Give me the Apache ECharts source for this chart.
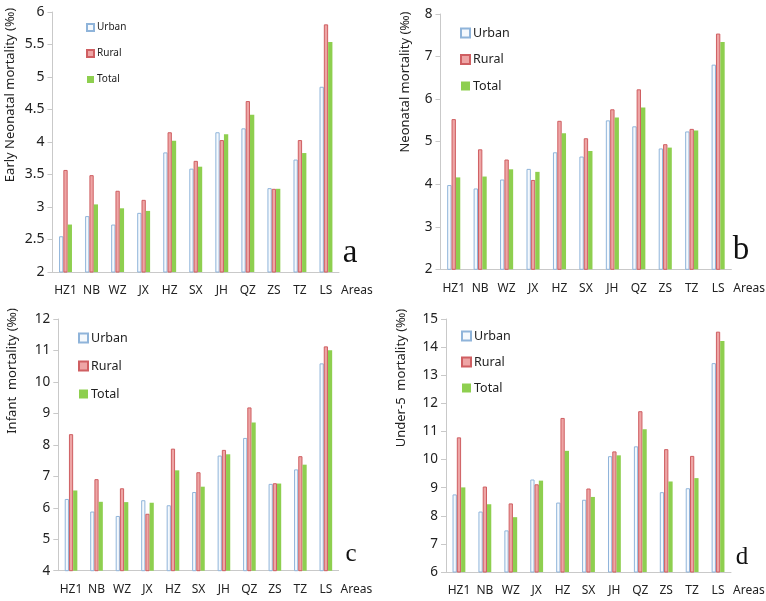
<!DOCTYPE html>
<html><head><meta charset="utf-8">
<script src="https://cdn.jsdelivr.net/npm/echarts@6/dist/echarts.min.js"></script>
<style>html,body{margin:0;padding:0;background:#fff}#c{width:766px;height:601px}</style>
</head><body><div id="c"></div>
<script>
const categories = ['HZ1','NB','WZ','JX','HZ','SX','JH','QZ','ZS','TZ','LS'];
const seriesNames = ['Urban','Rural','Total'];

const earlyNeoUrban = [2.55,2.86,2.73,2.91,3.84,3.59,4.15,4.21,3.29,3.73,4.85];
const earlyNeoRural = [3.57,3.49,3.25,3.11,4.15,3.71,4.03,4.63,3.28,4.03,5.81];
const earlyNeoTotal = [2.73,3.04,2.98,2.94,4.02,3.62,4.12,4.42,3.28,3.83,5.54];

const neoUrban = [3.98,3.90,4.11,4.36,4.75,4.65,5.50,5.36,4.84,5.24,6.81];
const neoRural = [5.53,4.82,4.58,4.10,5.49,5.08,5.76,6.23,4.94,5.30,7.54];
const neoTotal = [4.16,4.18,4.35,4.29,5.20,4.78,5.57,5.80,4.86,5.26,7.34];

const infUrban = [6.28,5.88,5.74,6.24,6.08,6.50,7.66,8.22,6.76,7.22,10.59];
const infRural = [8.34,6.91,6.62,5.81,7.88,7.13,7.84,9.19,6.78,7.64,11.13];
const infTotal = [6.55,6.19,6.18,6.16,7.19,6.67,7.70,8.71,6.77,7.37,11.01];

const u5Urban = [8.76,8.15,7.48,9.29,8.47,8.57,10.12,10.47,8.84,8.98,13.43];
const u5Rural = [10.79,9.04,8.44,9.12,11.48,8.97,10.29,11.72,10.37,10.13,14.55];
const u5Total = [9.01,8.41,7.95,9.25,10.31,8.67,10.15,11.08,9.22,9.34,14.22];

const yTitles = ['Early Neonatal mortality (‰)','Neonatal mortality (‰)','Infant  mortality (‰)','Under-5  mortality (‰)'];
const panelLetters = ['a','b','c','d'];
const yRanges = [[2,6,0.5],[2,8,1],[4,12,1],[6,15,1]];
const xName = 'Areas';

const panels = [
  [earlyNeoUrban, earlyNeoRural, earlyNeoTotal],
  [neoUrban, neoRural, neoTotal],
  [infUrban, infRural, infTotal],
  [u5Urban, u5Rural, u5Total]
];

// layout (pixels)
const grids = [
  {left:52.5, top:12, width:286.5, height:260},
  {left:440.5, top:14, width:291.5, height:255.3},
  {left:58.3, top:319, width:280.3, height:251.7},
  {left:446, top:319, width:285, height:253}
];
const titlePos = [[10,95],[405,82],[12.5,371],[401,378]];
const letterPos = [[350,270,33],[741,267,33],[351,567,25],[742,570,25]];
const yLabelSize = [14,13.5,13.5,13.5];
const legendPos = [
  {left:81, top:16.5, size:7, font:10, lh:12, gap:14},
  {left:455, top:21, size:9, font:12.5, lh:14, gap:12.5},
  {left:73, top:326, size:9, font:12.5, lh:14, gap:14},
  {left:456, top:324, size:9, font:12.5, lh:14, gap:12}
];

const axisGray = '#c9c9c9';
const styles = [
  {color:'#f5f9fd', borderColor:'#8fb4da', borderWidth:1},
  {color:'#eea5a5', borderColor:'#cf5f62', borderWidth:1},
  {color:'#8ecf4f', borderColor:'#8ecf4f', borderWidth:0}
];

const option = {
  animation:false,
  backgroundColor:'#ffffff',
  grid: grids.map(g => Object.assign({containLabel:false}, g)),
  legend: legendPos.map(l => ({
    orient:'vertical', left:l.left, top:l.top, itemWidth:l.size, itemHeight:l.size,
    itemGap:l.gap, icon:'rect', selectedMode:false,
    data: seriesNames,
    textStyle:{fontFamily:'Noto Sans', fontSize:l.font, lineHeight:l.lh, color:'#222', padding:[0,0,0,-2]}
  })),
  xAxis: grids.map((g,i) => ({
    type:'category', gridIndex:i, data:categories,
    name:xName, nameLocation:'end', nameGap:2,
    nameTextStyle:{fontFamily:'Noto Sans', fontSize:12, color:'#222', verticalAlign:'top', padding:[13,0,0,0]},
    axisLine:{lineStyle:{color:axisGray}}, axisTick:{show:false},
    axisLabel:{fontFamily:'Noto Sans', fontSize:12, color:'#222', margin:13, interval:0}
  })),
  yAxis: grids.map((g,i) => ({
    type:'value', gridIndex:i, min:yRanges[i][0], max:yRanges[i][1], interval:yRanges[i][2],
    axisLine:{show:true, lineStyle:{color:axisGray}},
    axisTick:{show:true, length:5, lineStyle:{color:axisGray}},
    splitLine:{show:false},
    axisLabel:{fontFamily:'Noto Sans', fontSize:yLabelSize[i], color:'#222', margin:8}
  })),
  series: [],
  graphic: []
};

panels.forEach((arrs, i) => {
  arrs.forEach((vals, k) => {
    option.series.push({
      type:'bar', name:seriesNames[k], xAxisIndex:i, yAxisIndex:i, data:vals,
      barWidth:'16.5%', barGap:'0%', barCategoryGap:'50%',
      itemStyle: styles[k]
    });
  });
  option.graphic.push({
    type:'text', x:titlePos[i][0], y:titlePos[i][1], rotation:Math.PI/2,
    style:{text:yTitles[i], fontFamily:'Noto Sans', fontSize:13, fill:'#222', textAlign:'center', textVerticalAlign:'middle'}
  });
  option.graphic.push({
    type:'text', x:letterPos[i][0], y:letterPos[i][1],
    style:{text:panelLetters[i], fontFamily:'Liberation Serif', fontSize:letterPos[i][2], fill:'#111', textAlign:'center', textVerticalAlign:'bottom'}
  });
});

const chart = echarts.init(document.getElementById('c'), null, {renderer:'canvas'});
chart.setOption(option);
</script>
</body></html>
